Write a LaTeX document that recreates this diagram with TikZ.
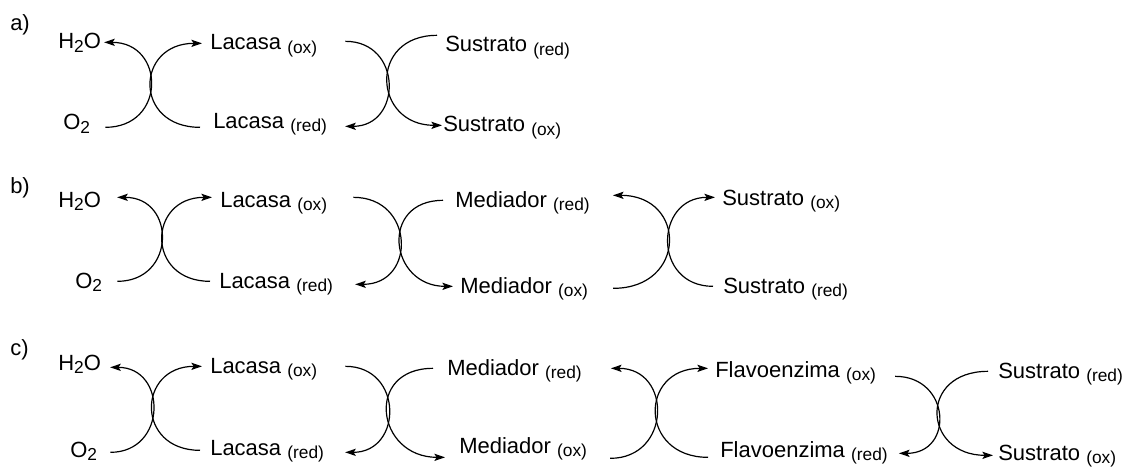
\documentclass[tikz,border=0pt]{standalone}
\usepackage{fontspec}
\setmainfont{Liberation Sans}
\usepackage{tikz}
\usetikzlibrary{arrows.meta,calc}
\newcommand{\subtxt}[1]{{\fontsize{13}{13}\selectfont\raisebox{-2.5pt}{#1}}}
\tikzset{%
  compound/.style={%
    anchor=base west,
    inner xsep=0pt,
    inner ysep=0pt,
    text height=13pt,
    text depth=3pt,
    font=\fontsize{16.5}{18}\selectfont
  },
  arcLine/.style={%
    -{Stealth[length=2.8mm,width=1.9mm,inset=0.6mm]},
    line width=0.9pt
  },
  bulgeRight/.style={out=0,in=0,looseness=#1},
  bulgeLeft/.style={out=180,in=180,looseness=#1}
}

\begin{document}
\begin{tikzpicture}[x=0.75pt,y=-0.75pt]
            \useasboundingbox (0,0) rectangle (1129,467);

            % a) laccase + substrate
            \node[compound] (lblA) at (10,31) {a)};
            \node[compound] (h2oA) at (58,49) {H\subtxt{2}O};
            \node[compound] (o2A) at (63,130) {O\subtxt{2}};
            \node[compound] (lacOxA) at (210,50) {Lacasa \subtxt{(ox)}};
            \node[compound] (lacRedA) at (213,128) {Lacasa \subtxt{(red)}};
            \node[compound] (susRedA) at (445,52) {Sustrato \subtxt{(red)}};
            \node[compound] (susOxA) at (443,132) {Sustrato \subtxt{(ox)}};

            \draw[arcLine] ($(o2A.east)+(15,4)$) to[bulgeRight=1.84] ($(h2oA.east)+(3,0)$);
            \draw[arcLine] ($(lacRedA.west)+(-13,6)$) to[bulgeLeft=2.03] ($(lacOxA.west)+(-8,0)$);
            \draw[arcLine] ($(lacOxA.east)+(28,-2)$) to[bulgeRight=1.72] ($(lacRedA.east)+(18,5)$);
            \draw[arcLine] ($(susRedA.west)+(-8,-10)$) to[bulgeLeft=1.96] ($(susOxA.west)+(-1,0)$);

            % b) laccase + mediator
            \node[compound] (lblB) at (10,193) {b)};
            \node[compound] (h2oB) at (58,207) {H\subtxt{2}O};
            \node[compound] (o2B) at (75,288) {O\subtxt{2}};
            \node[compound] (lacOxB) at (220,207) {Lacasa \subtxt{(ox)}};
            \node[compound] (lacRedB) at (219,288) {Lacasa \subtxt{(red)}};
            \node[compound] (medRedB) at (455,207) {Mediador \subtxt{(red)}};
            \node[compound] (medOxB) at (460,293) {Mediador \subtxt{(ox)}};
            \node[compound] (susOxB) at (722,205) {Sustrato \subtxt{(ox)}};
            \node[compound] (susRedB) at (723,293) {Sustrato \subtxt{(red)}};

            \draw[arcLine] ($(o2B.east)+(15,0)$) to[bulgeRight=1.80] ($(h2oB.east)+(16,-3)$);
            \draw[arcLine] ($(lacRedB.west)+(-9,0)$) to[bulgeLeft=1.96] ($(lacOxB.west)+(-8,-3)$);
            \draw[arcLine] ($(lacOxB.east)+(26,-3)$) to[bulgeRight=1.80] ($(lacRedB.east)+(22,3)$);
            \draw[arcLine] ($(medRedB.west)+(-12,0)$) to[bulgeLeft=1.89] ($(medOxB.west)+(-7,0)$);
            \draw[arcLine] ($(medOxB.east)+(25,2)$) to[bulgeRight=2.03] ($(medRedB.east)+(23,-5)$);
            \draw[arcLine] ($(susRedB.west)+(-10,0)$) to[bulgeLeft=1.74] ($(susOxB.west)+(-7,-1)$);

            % c) laccase + mediator + flavoenzyme
            \node[compound] (lblC) at (10,355) {c)};
            \node[compound] (h2oC) at (58,370) {H\subtxt{2}O};
            \node[compound] (o2C) at (70,457) {O\subtxt{2}};
            \node[compound] (lacOxC) at (210,373) {Lacasa \subtxt{(ox)}};
            \node[compound] (lacRedC) at (210,455) {Lacasa \subtxt{(red)}};
            \node[compound] (medRedC) at (447,375) {Mediador \subtxt{(red)}};
            \node[compound] (medOxC) at (459,453) {Mediador \subtxt{(ox)}};
            \node[compound] (flaOxC) at (715,377) {Flavoenzima \subtxt{(ox)}};
            \node[compound] (flaRedC) at (720,457) {Flavoenzima \subtxt{(red)}};
            \node[compound] (susRedC) at (998,378) {Sustrato \subtxt{(red)}};
            \node[compound] (susOxC) at (998,460) {Sustrato \subtxt{(ox)}};

            \draw[arcLine] ($(o2C.east)+(13,2)$) to[bulgeRight=1.72] ($(h2oC.east)+(9,4)$);
            \draw[arcLine] ($(lacRedC.west)+(-10,2)$) to[bulgeLeft=1.97] ($(lacOxC.west)+(-8,0)$);
            \draw[arcLine] ($(lacOxC.east)+(28,0)$) to[bulgeRight=1.72] ($(lacRedC.east)+(21,4)$);
            \draw[arcLine] ($(medRedC.west)+(-14,0)$) to[bulgeLeft=1.96] ($(medOxC.west)+(-14,11)$);
            \draw[arcLine] ($(medOxC.east)+(23,12)$) to[bulgeRight=1.74] ($(medRedC.east)+(29,0)$);
            \draw[arcLine] ($(flaRedC.west)+(-12,7)$) to[bulgeLeft=1.99] ($(flaOxC.west)+(-7,-2)$);
            \draw[arcLine] ($(flaOxC.east)+(19,6)$) to[bulgeRight=1.84] ($(flaRedC.east)+(11,3)$);
            \draw[arcLine] ($(susRedC.west)+(-10,0)$) to[bulgeLeft=2.13] ($(susOxC.west)+(-5,2)$);
        \end{tikzpicture}
\end{document}
